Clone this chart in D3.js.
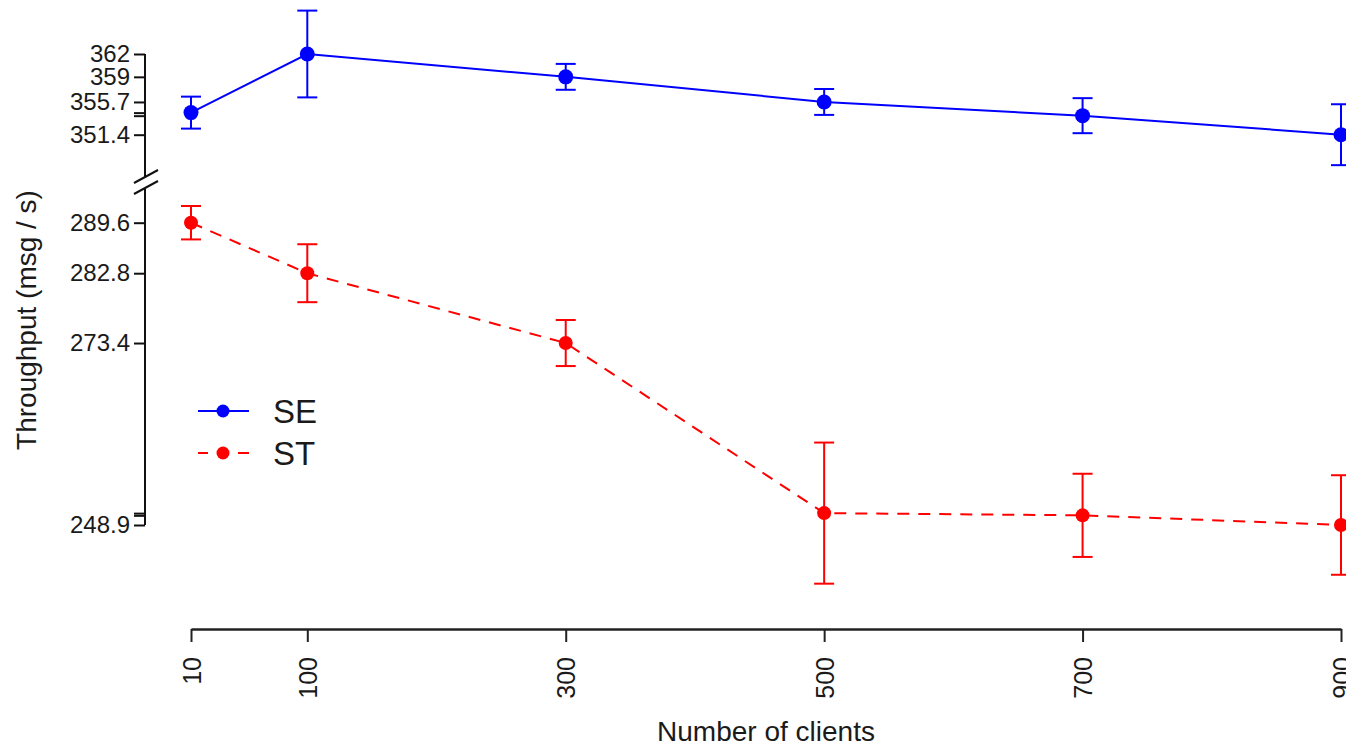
<!DOCTYPE html>
<html>
<head>
<meta charset="utf-8">
<script src="https://cdn.jsdelivr.net/npm/d3@7"></script>
<style>
  body { margin: 0; background: #fff; }
  text { font-family: "Liberation Sans", Arial, sans-serif; fill: #1a1a1a; }
</style>
</head>
<body>
<div id="graph"></div>
<script>
// data
const clients = [10, 100, 300, 500, 700, 900];
const seMean = [354.3, 362, 359, 355.7, 353.9, 351.4];
const seErr  = [2.1, 5.7, 1.7, 1.7, 2.3, 4.0];
const stMean = [289.6, 282.8, 273.4, 250.5, 250.2, 248.9];
const stErr  = [2.25, 3.9, 3.1, 9.5, 5.6, 6.7];
const seLabels = [362, 359, 355.7, 351.4];
const stLabels = [289.6, 282.8, 273.4, 248.9];
const seriesNames = ["SE", "ST"];

let w = 1346, h = 747;

let svg = d3.select("#graph").append("svg")
            .attr("width", w)
            .attr("height", h);

let xScale = d3.scaleLinear()
               .domain([10, 900])
               .range([191, 1341]);

// broken y axis: two pieces with (nearly) the same px per unit
let yTop = d3.scaleLinear()
             .domain([351.4, 362])
             .range([134.7, 54]);

let yBot = d3.scaleLinear()
             .domain([248.9, 289.6])
             .range([525, 222.7]);

const axisX = 145;

// y axis, top piece
let gTop = svg.append("g").attr("transform", `translate(${axisX},0)`);
gTop.call(d3.axisLeft(yTop)
      .tickValues(seMean)
      .tickSize(11)
      .tickFormat(d => seLabels.includes(d) ? d : ""));

// y axis, bottom piece
let gBot = svg.append("g").attr("transform", `translate(${axisX},0)`);
gBot.call(d3.axisLeft(yBot)
      .tickValues(stMean)
      .tickSize(11)
      .tickFormat(d => stLabels.includes(d) ? d : ""));

[gTop, gBot].forEach(g => {
  g.select(".domain").remove();
  g.selectAll(".tick line").attr("stroke", "#111").attr("stroke-width", 2);
  g.selectAll(".tick text")
   .attr("x", -15)
   .style("font-size", "24px")
   .attr("fill", "#1a1a1a");
});

// axis spines
svg.append("line")
   .attr("x1", axisX).attr("x2", axisX)
   .attr("y1", yTop(362)).attr("y2", 177)
   .attr("stroke", "#111").attr("stroke-width", 2);

svg.append("line")
   .attr("x1", axisX).attr("x2", axisX)
   .attr("y1", 189).attr("y2", yBot(248.9))
   .attr("stroke", "#111").attr("stroke-width", 2);

// break marks
[[0, 0], [0, 11]].forEach(([dx, dy]) => {
  svg.append("line")
     .attr("x1", axisX - 11 + dx).attr("y1", 183 + dy)
     .attr("x2", axisX + 13 + dx).attr("y2", 170 + dy)
     .attr("stroke", "#111").attr("stroke-width", 2);
});

// x axis
let xAxisG = svg.append("g")
                .attr("transform", "translate(0, 629)")
                .call(d3.axisBottom(xScale)
                        .tickValues(clients)
                        .tickSize(13)
                        .tickSizeOuter(0));

xAxisG.select(".domain").attr("stroke", "#222").attr("stroke-width", 2.5);
xAxisG.selectAll(".tick line").attr("stroke", "#222").attr("stroke-width", 2);
xAxisG.selectAll(".tick text")
      .attr("transform", "rotate(-90)")
      .attr("x", -28)
      .attr("y", 0)
      .attr("dy", "0.36em")
      .style("text-anchor", "end")
      .style("font-size", "25px")
      .attr("fill", "#1a1a1a");

// axis titles
svg.append("text")
   .attr("x", 766)
   .attr("y", 741)
   .style("text-anchor", "middle")
   .style("font-size", "28px")
   .text("Number of clients");

svg.append("text")
   .attr("transform", "translate(36, 320) rotate(-90)")
   .style("text-anchor", "middle")
   .style("font-size", "28px")
   .text("Throughput (msg / s)");

// series
function drawSeries(means, errs, yScale, color, dash, r) {
  let pts = clients.map((c, i) => ({ x: c, y: means[i], e: errs[i] }));

  let line = d3.line()
               .x(d => xScale(d.x))
               .y(d => yScale(d.y));

  svg.append("path")
     .datum(pts)
     .attr("d", line)
     .style("stroke", color)
     .style("stroke-width", "2px")
     .style("stroke-dasharray", dash)
     .style("fill", "none");

  let eb = svg.append("g").attr("stroke", color).attr("stroke-width", 2);

  eb.selectAll("line.v")
    .data(pts).enter().append("line")
    .attr("x1", d => xScale(d.x)).attr("x2", d => xScale(d.x))
    .attr("y1", d => yScale(d.y - d.e)).attr("y2", d => yScale(d.y + d.e));

  eb.selectAll("line.top")
    .data(pts).enter().append("line")
    .attr("x1", d => xScale(d.x) - 10).attr("x2", d => xScale(d.x) + 10)
    .attr("y1", d => yScale(d.y + d.e)).attr("y2", d => yScale(d.y + d.e));

  eb.selectAll("line.bot")
    .data(pts).enter().append("line")
    .attr("x1", d => xScale(d.x) - 10).attr("x2", d => xScale(d.x) + 10)
    .attr("y1", d => yScale(d.y - d.e)).attr("y2", d => yScale(d.y - d.e));

  svg.append("g").selectAll("circle")
     .data(pts).enter().append("circle")
     .attr("cx", d => xScale(d.x))
     .attr("cy", d => yScale(d.y))
     .attr("r", r)
     .attr("fill", color);
}

drawSeries(seMean, seErr, yTop, "#0000ff", null, 7.5);
drawSeries(stMean, stErr, yBot, "#ff0000", "12,9", 7);

// legend
const legendColors = ["#0000ff", "#ff0000"];
const legendDash = [null, "10,30,11"];
let legend = svg.append("g");

seriesNames.forEach((name, i) => {
  let ly = 411 + i * 42;
  legend.append("line")
        .attr("x1", 198).attr("x2", 249)
        .attr("y1", ly).attr("y2", ly)
        .attr("stroke", legendColors[i])
        .attr("stroke-width", 2)
        .style("stroke-dasharray", legendDash[i]);
  legend.append("circle")
        .attr("cx", 223).attr("cy", ly)
        .attr("r", 6.5)
        .attr("fill", legendColors[i]);
  legend.append("text")
        .attr("x", 273).attr("y", ly + 12)
        .style("font-size", "33px")
        .text(name);
});
</script>
</body>
</html>
